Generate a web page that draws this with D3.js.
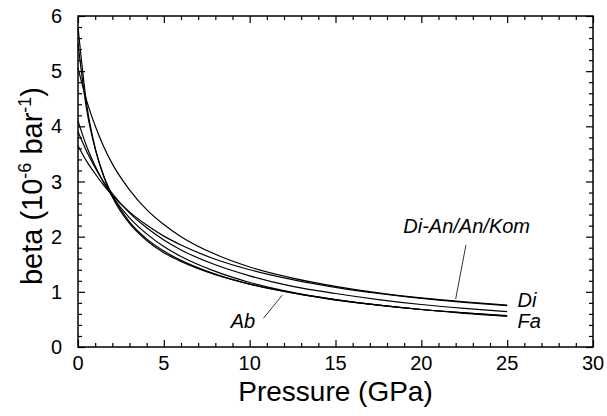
<!DOCTYPE html>
<html>
<head>
<meta charset="utf-8">
<script src="https://cdn.jsdelivr.net/npm/d3@7"></script>
<style>
  body { margin: 0; background: #fff; }
  text { font-family: "Liberation Sans", Arial, Helvetica, sans-serif; fill: #000; }
</style>
</head>
<body>
<div id="chart"></div>
<script>
// pressure grid (GPa)
const pressure = [0, 0.5, 1, 1.5, 2, 3, 4, 5, 6, 8, 10, 12.5, 15, 17.5, 20, 22.5, 25];

// compressibility beta (10^-6 bar^-1), one list per curve
const betaTop  = [5.06, 4.47, 4.01, 3.63, 3.32, 2.85, 2.49, 2.22, 2.00, 1.68, 1.45, 1.25, 1.10, 0.98, 0.89, 0.82, 0.76];
const betaDi   = [3.65, 3.37, 3.14, 2.93, 2.75, 2.45, 2.21, 2.01, 1.85, 1.59, 1.40, 1.22, 1.08, 0.97, 0.88, 0.81, 0.75];
const betaMid  = [3.90, 3.55, 3.25, 2.99, 2.78, 2.43, 2.16, 1.94, 1.76, 1.49, 1.29, 1.10, 0.97, 0.86, 0.77, 0.70, 0.64];
const betaFa   = [4.10, 3.64, 3.28, 2.98, 2.73, 2.34, 2.05, 1.82, 1.64, 1.37, 1.17, 0.99, 0.86, 0.76, 0.68, 0.62, 0.57];
const betaAb1  = [5.50, 4.31, 3.59, 3.10, 2.75, 2.27, 1.96, 1.74, 1.57, 1.32, 1.14, 0.98, 0.85, 0.76, 0.68, 0.61, 0.56];
const betaAb2  = [5.80, 4.41, 3.61, 3.09, 2.72, 2.24, 1.93, 1.71, 1.55, 1.31, 1.14, 0.98, 0.86, 0.76, 0.68, 0.62, 0.56];

const seriesValues = [betaTop, betaDi, betaMid, betaFa, betaAb1, betaAb2];

// axis ticks
const xMajor = [0, 5, 10, 15, 20, 25, 30];
const yMajor = [0, 1, 2, 3, 4, 5, 6];

// chart size
const W = 607, H = 416;
const margin = {top: 16, right: 14, bottom: 69, left: 78},
    width = W - margin.left - margin.right,
    height = H - margin.top - margin.bottom;

const svg = d3.select("#chart")
    .append("svg")
    .attr("width", W)
    .attr("height", H);

const g = svg.append("g")
    .attr("transform", "translate(" + margin.left + "," + margin.top + ")");

const x = d3.scaleLinear().domain([0, 30]).range([0, width]);
const y = d3.scaleLinear().domain([0, 6]).range([height, 0]);

// minor tick values
const xMinor = d3.range(0, 30.001, 1).filter(v => v % 5 !== 0);
const yMinor = d3.range(0, 6.001, 0.2).map(v => +v.toFixed(1)).filter(v => Math.abs(v - Math.round(v)) > 1e-6);

// inward ticks on all four sides
function drawTicks(axisFn, scale, values, size, transform) {
    g.append("g")
        .attr("transform", transform)
        .call(axisFn(scale).tickValues(values).tickSize(size).tickFormat(""))
        .call(a => a.select(".domain").remove())
        .selectAll("line").attr("stroke", "#000").attr("stroke-width", 1.2);
}
drawTicks(d3.axisBottom, x, xMajor, -7, "translate(0," + height + ")");
drawTicks(d3.axisBottom, x, xMinor, -4, "translate(0," + height + ")");
drawTicks(d3.axisTop, x, xMajor, -7, "translate(0,0)");
drawTicks(d3.axisTop, x, xMinor, -4, "translate(0,0)");
drawTicks(d3.axisLeft, y, yMajor, -7, "translate(0,0)");
drawTicks(d3.axisLeft, y, yMinor, -4, "translate(0,0)");
drawTicks(d3.axisRight, y, yMajor, -7, "translate(" + width + ",0)");
drawTicks(d3.axisRight, y, yMinor, -4, "translate(" + width + ",0)");

// frame
g.append("rect")
    .attr("width", width).attr("height", height)
    .attr("fill", "none").attr("stroke", "#000").attr("stroke-width", 1.5);

// tick labels
g.selectAll(".xlab").data(xMajor).enter().append("text")
    .attr("x", d => x(d)).attr("y", height + 23)
    .attr("text-anchor", "middle").attr("font-size", 20)
    .text(d => d);
g.selectAll(".ylab").data(yMajor).enter().append("text")
    .attr("x", -16).attr("y", d => y(d) + 7)
    .attr("text-anchor", "end").attr("font-size", 20)
    .text(d => d);

// axis titles
g.append("text")
    .attr("x", width / 2).attr("y", height + 54)
    .attr("text-anchor", "middle").attr("font-size", 28)
    .text("Pressure (GPa)");

const ytitle = svg.append("text")
    .attr("transform", "translate(42,186) rotate(-90)")
    .attr("text-anchor", "middle").attr("font-size", 29);
ytitle.append("tspan").text("beta (10");
ytitle.append("tspan").attr("font-size", 18).attr("dy", -11).text("-6");
ytitle.append("tspan").attr("dy", 11).text(" bar");
ytitle.append("tspan").attr("font-size", 18).attr("dy", -11).text("-1");
ytitle.append("tspan").attr("dy", 11).text(")");

// curves
const line = d3.line()
    .x((d, i) => x(pressure[i]))
    .y(d => y(d))
    .curve(d3.curveMonotoneX);

g.selectAll(".curve")
    .data(seriesValues)
    .enter().append("path")
    .attr("class", "curve")
    .attr("d", line)
    .attr("fill", "none")
    .attr("stroke", "#000")
    .attr("stroke-width", 1.2);

// labels with leader lines
function label(txt, p, b) {
    g.append("text")
        .attr("x", x(p)).attr("y", y(b))
        .attr("font-size", 20).attr("font-style", "italic")
        .text(txt);
}
function leader(p1, b1, p2, b2) {
    g.append("line")
        .attr("x1", x(p1)).attr("y1", y(b1))
        .attr("x2", x(p2)).attr("y2", y(b2))
        .attr("stroke", "#000").attr("stroke-width", 0.8);
}
label("Di-An/An/Kom", 18.95, 2.07);
leader(22.6, 1.85, 22.0, 0.87);
label("Di", 25.6, 0.73);
label("Fa", 25.6, 0.35);
label("Ab", 8.9, 0.35);
leader(10.8, 0.52, 11.9, 0.94);
</script>
</body>
</html>
